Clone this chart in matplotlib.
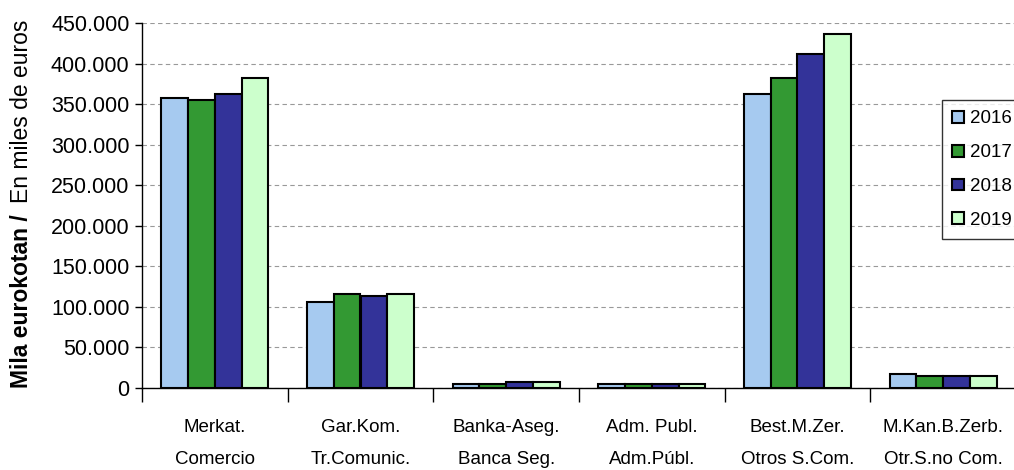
import matplotlib.pyplot as plt
import numpy as np
from matplotlib.patches import Patch

plt.rcParams['font.family'] = ['Liberation Sans', 'DejaVu Sans']

# categories (two-line labels) and yearly values, miles de euros
cat_eu = ['Merkat.', 'Gar.Kom.', 'Banka-Aseg.', 'Adm. Publ.', 'Best.M.Zer.', 'M.Kan.B.Zerb.']
cat_es = ['Comercio', 'Tr.Comunic.', 'Banca Seg.', 'Adm.Públ.', 'Otros S.Com.', 'Otr.S.no Com.']
years = ['2016', '2017', '2018', '2019']
v2016 = [357500, 106000, 5000, 4500, 362500, 17000]
v2017 = [355000, 116000, 5000, 4500, 382000, 14800]
v2018 = [362500, 113500, 8000, 4500, 412000, 14800]
v2019 = [382000, 116000, 7000, 4500, 436500, 14500]
colors = ['#A6CAF0', '#339933', '#333399', '#CCFFCC']

fig = plt.figure(figsize=(10.14, 4.70), dpi=100)
ax = fig.add_axes([142/1014, 82/470, 874/1014, 365/470])

x = np.arange(len(cat_eu))
w = 0.184
series = [v2016, v2017, v2018, v2019]
for i, vals in enumerate(series):
    ax.bar(x + (i - 1.5) * w, vals, w, color=colors[i], edgecolor='black',
           linewidth=1.5, zorder=3)

ax.set_xlim(-0.5, len(cat_eu) - 0.5)
ax.set_ylim(0, 450000)
yt = np.arange(0, 450001, 50000)
ax.set_yticks(yt)
ax.set_yticklabels([f'{int(v):,}'.replace(',', '.') for v in yt], fontsize=15.5)
ax.yaxis.grid(True, linestyle=(0, (4, 3)), color='#999999', linewidth=0.8, zorder=0)
ax.tick_params(axis='y', length=5, width=1, pad=4)

ax.set_xticks(x)
ax.set_xticklabels([a + '\n' + b for a, b in zip(cat_eu, cat_es)], fontsize=13.5,
                   linespacing=2.2)
ax.tick_params(axis='x', which='major', length=0, pad=22)
ax.set_xticks(np.arange(-0.5, len(cat_eu), 1), minor=True)
ax.tick_params(axis='x', which='minor', length=10, width=1)

for s in ['top', 'right']:
    ax.spines[s].set_visible(False)
ax.spines['left'].set_linewidth(1)
ax.spines['bottom'].set_linewidth(1)

fig.text(22/1014, 1 - 388/470, 'Mila eurokotan /', rotation=90, fontsize=16.5,
         fontweight='bold', ha='center', va='bottom')
fig.text(22/1014, 1 - 20/470, 'En miles de euros', rotation=90, fontsize=16.5,
         ha='center', va='top')

handles = [Patch(facecolor=c, edgecolor='black', linewidth=1.5) for c in colors]
leg = fig.legend(handles, years, loc='upper left', bbox_to_anchor=(942/1014, 1 - 100/470),
                 fontsize=13.5, frameon=True, fancybox=False, edgecolor='black',
                 handlelength=0.6, handleheight=0.6, handletextpad=0.35,
                 labelspacing=0.9, borderpad=0.55, borderaxespad=0)
leg.get_frame().set_linewidth(1)

fig.savefig('out.png', dpi=100)
